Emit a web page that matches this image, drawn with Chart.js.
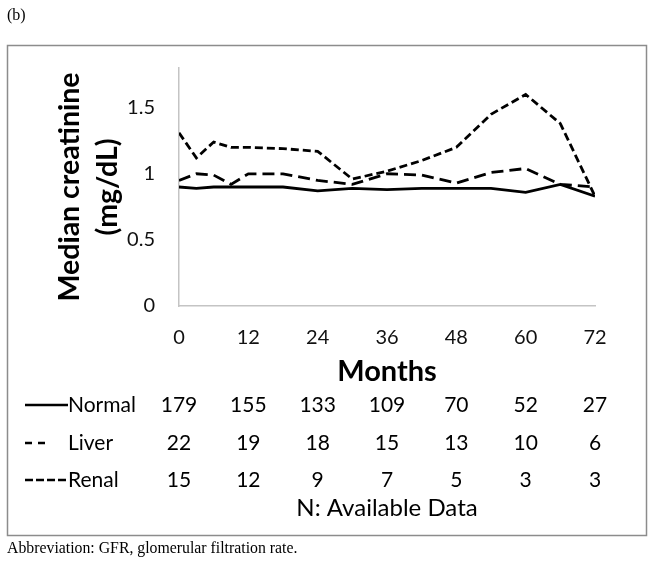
<!DOCTYPE html>
<html><head><meta charset="utf-8">
<script src="https://cdn.jsdelivr.net/npm/chart.js@4/dist/chart.umd.min.js"></script>
<style>
html,body{margin:0;padding:0;background:#fff;}
#wrap{position:relative;width:654px;height:563px;overflow:hidden;}
canvas{position:absolute;left:0;top:0;}
.serif{position:absolute;font-family:'Liberation Serif','Times New Roman',serif;font-size:16px;color:#000;white-space:nowrap;line-height:1;}
</style></head><body>
<div id="wrap">
<canvas id="c" width="654" height="563"></canvas>
<div class="serif" style="left:7px;top:7px">(b)</div>
<div class="serif" style="left:7px;top:540px;font-size:15.8px">Abbreviation: GFR, glomerular filtration rate.</div>
</div>
<script>
// ---- data ----
const months = [0, 3, 6, 9, 12, 18, 24, 30, 36, 42, 48, 54, 60, 66, 72];
const normal = [0.90, 0.89, 0.90, 0.90, 0.90, 0.90, 0.87, 0.89, 0.88, 0.89, 0.89, 0.89, 0.86, 0.92, 0.83];
const liver  = [0.95, 1.00, 0.99, 0.92, 1.00, 1.00, 0.95, 0.92, 1.00, 0.99, 0.93, 1.01, 1.04, 0.92, 0.90];
const renal  = [1.31, 1.12, 1.24, 1.20, 1.20, 1.19, 1.17, 0.96, 1.02, 1.10, 1.20, 1.45, 1.60, 1.38, 0.83];
const tickMonths = [0, 12, 24, 36, 48, 60, 72];
const yTicks = [0, 0.5, 1, 1.5];
const nNormal = [179, 155, 133, 109, 70, 52, 27];
const nLiver  = [22, 19, 18, 15, 13, 10, 6];
const nRenal  = [15, 12, 9, 7, 5, 3, 3];
const seriesNames = ['Normal', 'Liver', 'Renal'];

const toXY = arr => arr.map((v, i) => ({x: months[i], y: v}));

const tablePlugin = {
  id: 'tablePlugin',
  afterDraw(chart) {
    const ctx = chart.ctx, xs = chart.scales.x;
    ctx.save();
    ctx.strokeStyle = '#8c8c8c'; ctx.lineWidth = 1.5;
    ctx.strokeRect(7.5, 45.5, 639, 490);
    const rows = [
      {name: seriesNames[0], counts: nNormal, y: 405, dash: [], end: 68},
      {name: seriesNames[1], counts: nLiver,  y: 443, dash: [7, 6], end: 45},
      {name: seriesNames[2], counts: nRenal,  y: 480, dash: [8, 3], end: 67}
    ];
    ctx.font = '21px Lato';
    ctx.fillStyle = '#000';
    ctx.textBaseline = 'middle';
    rows.forEach(r => {
      ctx.beginPath();
      ctx.setLineDash(r.dash);
      ctx.lineWidth = 2.5; ctx.strokeStyle = '#000';
      ctx.moveTo(25, r.y); ctx.lineTo(r.end, r.y); ctx.stroke();
      ctx.setLineDash([]);
      ctx.textAlign = 'left';
      ctx.fillText(r.name, 68, r.y);
      ctx.textAlign = 'center';
      r.counts.forEach((n, j) => ctx.fillText(String(n), xs.getPixelForValue(tickMonths[j]), r.y));
    });
    ctx.textAlign = 'center';
    ctx.font = '24px Lato';
    ctx.fillText('N: Available Data', xs.getPixelForValue(36), 508);
    ctx.restore();
  }
};

new Chart(document.getElementById('c'), {
  type: 'line',
  data: {
    datasets: [
      {label: seriesNames[0], data: toXY(normal), borderColor: '#000', borderWidth: 2.8, pointRadius: 0, tension: 0, fill: false},
      {label: seriesNames[1], data: toXY(liver), borderColor: '#000', borderWidth: 2.8, borderDash: [12, 6], pointRadius: 0, tension: 0, fill: false},
      {label: seriesNames[2], data: toXY(renal), borderColor: '#000', borderWidth: 2.8, borderDash: [8, 4], pointRadius: 0, tension: 0, fill: false}
    ]
  },
  options: {
    responsive: false,
    animation: false,
    devicePixelRatio: 1,
    layout: {padding: {top: 68, right: 59, left: 0, bottom: 173}},
    plugins: {legend: {display: false}, tooltip: {enabled: false}},
    scales: {
      x: {
        type: 'linear', min: 0, max: 72,
        afterBuildTicks: s => { s.ticks = tickMonths.map(v => ({value: v})); },
        afterFit: s => { s.height = 84; s.paddingLeft = 0; s.paddingRight = 0; },
        grid: {display: false, drawTicks: false},
        border: {display: true, color: '#c4c4c4', width: 1.5},
        ticks: {padding: 20, color: '#111', font: {family: 'Lato', size: 20}, maxRotation: 0, autoSkip: false},
        title: {display: true, text: 'Months', color: '#000', font: {family: 'Lato', size: 29, weight: 'bold'}, padding: {top: 0, bottom: 1}}
      },
      y: {
        type: 'linear', min: 0, max: 1.8,
        afterBuildTicks: s => { s.ticks = yTicks.map(v => ({value: v})); },
        afterFit: s => { s.width = 179; s.paddingTop = 0; s.paddingBottom = 0; },
        grid: {display: false, drawTicks: false},
        border: {display: true, color: '#c4c4c4', width: 1.5},
        ticks: {padding: 24, color: '#111', font: {family: 'Lato', size: 20}, callback: v => String(v)},
        title: {display: true, text: ['Median creatinine', '(mg/dL)'], color: '#000', font: {family: 'Lato', size: 28.5, weight: 'bold', lineHeight: 1.33}, padding: {top: 51, bottom: 0}}
      }
    }
  },
  plugins: [tablePlugin]
});
</script>
</body></html>
